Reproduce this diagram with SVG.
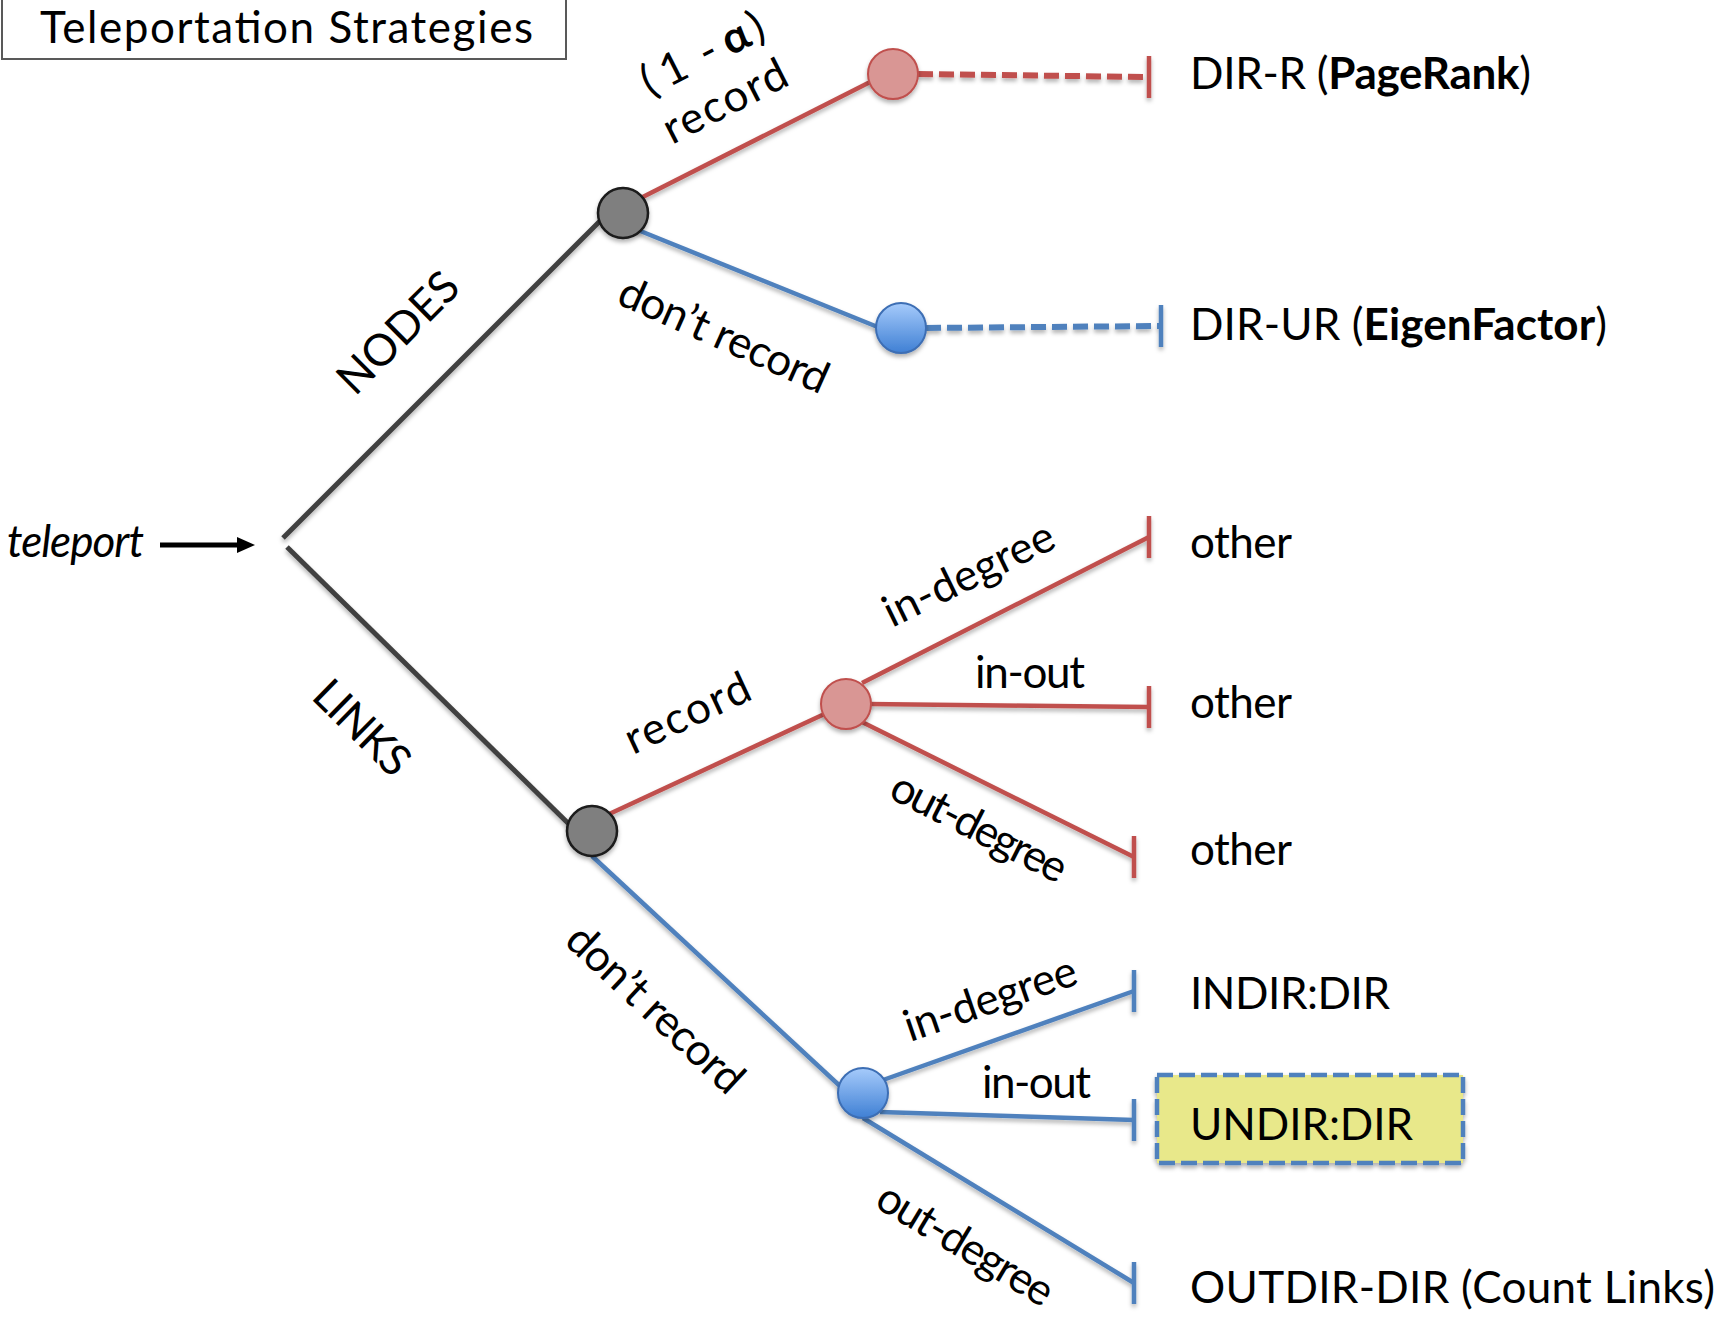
<svg xmlns="http://www.w3.org/2000/svg" width="1724" height="1318" viewBox="0 0 1724 1318">
  <style>
    .t { font-family: Lato, "Liberation Sans", "DejaVu Sans", sans-serif; font-size: 44px; fill: #000; }
    .b { font-weight: bold; }
    .gray { stroke: #404040; stroke-width: 5; fill: none; }
    .red { stroke: #c0504d; stroke-width: 4.5; fill: none; }
    .blue { stroke: #4f81bd; stroke-width: 4.5; fill: none; }
    .dash { stroke-width: 6; stroke-dasharray: 15 6; }
    .tee-r { marker-end: url(#tee-red); }
    .tee-b { marker-end: url(#tee-blue); }
    .hub { fill: #7f7f7f; stroke: #1a1a1a; stroke-width: 2.5; }
    .rnode { fill: #d99694; stroke: #c0504d; stroke-width: 2; }
    .bnode { fill: url(#blueFill); stroke: #3c6eb4; stroke-width: 2; }
  </style>
  <defs>
    <filter id="shadow" x="-20%" y="-20%" width="140%" height="140%">
      <feDropShadow dx="0" dy="3" stdDeviation="2" flood-color="#000" flood-opacity="0.3"/>
    </filter>
    <linearGradient id="blueFill" x1="0" y1="0" x2="0" y2="1">
      <stop offset="0" stop-color="#a6cbfb"/>
      <stop offset="1" stop-color="#3f80d4"/>
    </linearGradient>
    <marker id="tee-red" viewBox="0 0 8 44" refX="4" refY="22" markerWidth="8" markerHeight="44" markerUnits="userSpaceOnUse" orient="0">
      <path d="M4 1V43" stroke="#c0504d" stroke-width="4.5"/>
    </marker>
    <marker id="tee-blue" viewBox="0 0 8 44" refX="4" refY="22" markerWidth="8" markerHeight="44" markerUnits="userSpaceOnUse" orient="0">
      <path d="M4 1V43" stroke="#4f81bd" stroke-width="4.5"/>
    </marker>
    <marker id="arrow" viewBox="0 0 18 16" refX="1" refY="8" markerWidth="18" markerHeight="16" markerUnits="userSpaceOnUse" orient="auto">
      <path d="M0 0L18 8L0 16z" fill="#000"/>
    </marker>
  </defs>

  <rect width="1724" height="1318" fill="#fff"/>

  <!-- title -->
  <g id="title">
    <rect x="2" y="-10" width="564" height="69" fill="#fff" stroke="#595959" stroke-width="2"/>
    <text class="t" x="40" y="43" font-size="43" textLength="493">Teleportation Strategies</text>
  </g>

  <!-- entry -->
  <g id="teleport">
    <text class="t" x="7" y="557" font-size="40" font-style="italic" textLength="137">teleport</text>
    <path d="M160 545H238" stroke="#000" stroke-width="5" marker-end="url(#arrow)"/>
  </g>

  <!-- connectors -->
  <g id="connectors" filter="url(#shadow)">
    <path id="e-nodes" class="gray" d="M283 538L600 221"/>
    <path id="e-links" class="gray" d="M287 547L578 833"/>
    <path id="e-nodes-record" class="red" d="M623 207L880 77"/>
    <path id="e-nodes-norecord" class="blue" d="M623 224L890 332"/>
    <path id="e-dir-r" class="red dash tee-r" d="M918 74L1149 77"/>
    <path id="e-dir-ur" class="blue dash tee-b" d="M926 328L1161 326"/>
    <path id="e-links-record" class="red" d="M592 822L846 704"/>
    <path id="e-links-norecord" class="blue" d="M592 856L855 1100"/>
    <path id="e-rec-in" class="red tee-r" d="M862 683L1149 537"/>
    <path id="e-rec-inout" class="red tee-r" d="M868 704L1149 707"/>
    <path id="e-rec-out" class="red tee-r" d="M862 722L1134 857"/>
    <path id="e-norec-in" class="blue tee-b" d="M883 1080L1134 991"/>
    <path id="e-norec-inout" class="blue tee-b" d="M880 1112L1134 1120"/>
    <path id="e-norec-out" class="blue tee-b" d="M863 1118L1134 1283"/>
  </g>

  <!-- connector labels -->
  <g id="edge-labels">
    <text class="t" transform="translate(355 397) rotate(-45)" textLength="152">NODES</text>
    <text class="t" transform="translate(310 698) rotate(44.5)" textLength="116">LINKS</text>
    <text class="t" transform="translate(650 97) rotate(-27)"><tspan x="0">(</tspan><tspan x="21">1</tspan><tspan x="64">-</tspan><tspan x="90" class="b">α</tspan><tspan x="121">)</tspan></text>
    <text class="t" transform="translate(672 145) rotate(-27)" textLength="134">record</text>
    <text class="t" transform="translate(615 303) rotate(24)" textLength="225">don’t record</text>
    <text class="t" transform="translate(633 755) rotate(-25)" textLength="134">record</text>
    <text class="t" transform="translate(563 943) rotate(43)" textLength="225">don’t record</text>
    <text class="t" transform="translate(892 628) rotate(-26)" textLength="185">in-degree</text>
    <text class="t" x="975" y="688" textLength="110">in-out</text>
    <text class="t" transform="translate(887 797) rotate(27)" textLength="192">out-degree</text>
    <text class="t" transform="translate(910 1042) rotate(-19)" textLength="180">in-degree</text>
    <text class="t" x="982" y="1098" textLength="109">in-out</text>
    <text class="t" transform="translate(873 1206) rotate(31)" textLength="198">out-degree</text>
  </g>

  <!-- branching nodes -->
  <g id="n-nodes" filter="url(#shadow)"><circle class="hub" cx="623" cy="213" r="25"/></g>
  <g id="n-links" filter="url(#shadow)"><circle class="hub" cx="592" cy="831" r="25"/></g>
  <g id="n-nodes-record" filter="url(#shadow)"><circle class="rnode" cx="893" cy="74" r="25"/></g>
  <g id="n-nodes-norecord" filter="url(#shadow)"><circle class="bnode" cx="901" cy="328" r="25"/></g>
  <g id="n-links-record" filter="url(#shadow)"><circle class="rnode" cx="846" cy="704" r="25"/></g>
  <g id="n-links-norecord" filter="url(#shadow)"><circle class="bnode" cx="863" cy="1093" r="25"/></g>

  <!-- leaves -->
  <g id="leaf-dir-r"><text class="t" x="1190" y="89" textLength="341">DIR-R (<tspan class="b">PageRank</tspan>)</text></g>
  <g id="leaf-dir-ur"><text class="t" x="1190" y="340" textLength="417">DIR-UR (<tspan class="b">EigenFactor</tspan>)</text></g>
  <g id="leaf-other-in"><text class="t" x="1190" y="558" textLength="102">other</text></g>
  <g id="leaf-other-inout"><text class="t" x="1190" y="718" textLength="102">other</text></g>
  <g id="leaf-other-out"><text class="t" x="1190" y="865" textLength="102">other</text></g>
  <g id="leaf-indir"><text class="t" x="1190" y="1009" textLength="200">INDIR:DIR</text></g>
  <g id="leaf-undir">
    <rect x="1157" y="1075" width="306" height="88" fill="#e8e88a" stroke="#4f81bd" stroke-width="4.5" stroke-dasharray="16 6" filter="url(#shadow)"/>
    <text class="t" x="1190" y="1140" textLength="223">UNDIR:DIR</text>
  </g>
  <g id="leaf-outdir"><text class="t" x="1190" y="1303" textLength="525">OUTDIR-DIR (Count Links)</text></g>
</svg>
